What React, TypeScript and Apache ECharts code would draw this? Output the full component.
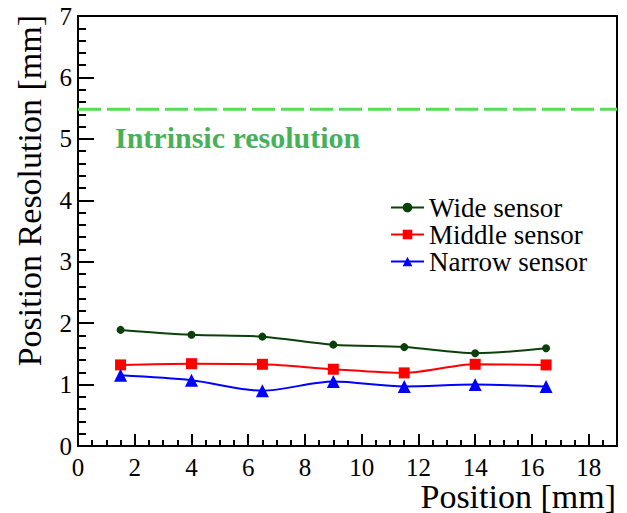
import React, { useEffect, useRef } from "react";
import * as echarts from "echarts";

const positions = [1.5, 4, 6.5, 9, 11.5, 14, 16.5];
const wideSensor = [1.89, 1.81, 1.78, 1.65, 1.61, 1.51, 1.59];
const middleSensor = [1.32, 1.34, 1.33, 1.25, 1.19, 1.33, 1.32];
const narrowSensor = [1.15, 1.07, 0.9, 1.05, 0.97, 1.0, 0.97];
const intrinsicResolution = 5.48;
const xRange = [0, 19];
const yRange = [0, 7];

const FONT = "Liberation Serif";

const pairs = (ys: number[]) => positions.map((x, i) => [x, ys[i]]);

export default function App() {
  const ref = useRef<HTMLDivElement>(null);
  useEffect(() => {
    if (!ref.current) return;
    const chart = echarts.init(ref.current, null, { renderer: "svg" });
    chart.setOption({
      animation: false,
      backgroundColor: "#fff",
      textStyle: { fontFamily: FONT },
      grid: {
        left: 78,
        right: 10,
        top: 16,
        bottom: 67,
        show: true,
        borderColor: "#000",
        borderWidth: 2,
        backgroundColor: "transparent",
      },
      legend: {
        orient: "vertical",
        left: 390,
        top: 194,
        padding: 0,
        itemWidth: 33,
        itemHeight: 12,
        itemGap: 0,
        data: ["Wide sensor", "Middle sensor", "Narrow sensor"],
        textStyle: { fontFamily: FONT, fontSize: 27, color: "#000", lineHeight: 25 },
      },
      xAxis: {
        type: "value",
        min: xRange[0],
        max: xRange[1],
        interval: 2,
        splitLine: { show: false },
        axisLine: { onZero: false, lineStyle: { color: "#000", width: 2 } },
        axisTick: { inside: true, length: 12, lineStyle: { color: "#000", width: 2 } },
        minorTick: { show: true, splitNumber: 4, length: 6, lineStyle: { color: "#000", width: 2 } },
        axisLabel: { showMaxLabel: false, fontFamily: FONT, fontSize: 25, lineHeight: 22, color: "#000", margin: 10 },
      },
      yAxis: {
        type: "value",
        min: yRange[0],
        max: yRange[1],
        interval: 1,
        splitLine: { show: false },
        axisLine: { onZero: false, lineStyle: { color: "#000", width: 2 } },
        axisTick: { inside: true, length: 16, lineStyle: { color: "#000", width: 2 } },
        minorTick: { show: true, splitNumber: 5, length: 8, lineStyle: { color: "#000", width: 2 } },
        axisLabel: { fontFamily: FONT, fontSize: 25, color: "#000", margin: 6 },
      },
      series: [
        {
          name: "Intrinsic",
          type: "line",
          data: [[xRange[0], intrinsicResolution], [xRange[1], intrinsicResolution]],
          showSymbol: false,
          symbol: "none",
          lineStyle: { color: "#55dd55", width: 3, type: [23, 6] },
          silent: true,
        },
        {
          name: "Wide sensor",
          type: "line",
          data: pairs(wideSensor),
          smooth: 0.3,
          symbol: "circle",
          symbolSize: 8,
          itemStyle: { color: "#0a400a" },
          lineStyle: { color: "#0a400a", width: 2 },
        },
        {
          name: "Middle sensor",
          type: "line",
          data: pairs(middleSensor),
          smooth: 0.3,
          symbol: "rect",
          symbolSize: 11,
          itemStyle: { color: "#ff0000" },
          lineStyle: { color: "#ff0000", width: 2 },
        },
        {
          name: "Narrow sensor",
          type: "line",
          data: pairs(narrowSensor),
          smooth: 0.3,
          symbol: "triangle",
          symbolSize: 13,
          itemStyle: { color: "#0000ff" },
          lineStyle: { color: "#0000ff", width: 2 },
        },
      ],
      graphic: [
        {
          type: "text",
          x: 115,
          y: 137,
          style: {
            text: "Intrinsic resolution",
            fontFamily: FONT,
            fontWeight: "bold",
            fontSize: 30,
            fill: "#47b159",
            align: "left",
            verticalAlign: "middle",
          },
        },
        {
          type: "text",
          x: 616,
          y: 496,
          style: {
            text: "Position [mm]",
            fontFamily: FONT,
            fontSize: 34,
            lineHeight: 28,
            fill: "#000",
            align: "right",
            verticalAlign: "middle",
          },
        },
        {
          type: "text",
          x: 29,
          y: 15,
          rotation: Math.PI / 2,
          style: {
            text: "Position Resolution [mm]",
            fontFamily: FONT,
            fontSize: 34,
            fill: "#000",
            align: "right",
            verticalAlign: "middle",
          },
        },
      ],
    });
    return () => chart.dispose();
  }, []);
  return <div ref={ref} style={{ width: 627, height: 513, position: "absolute", left: 0, top: 0 }} />;
}
